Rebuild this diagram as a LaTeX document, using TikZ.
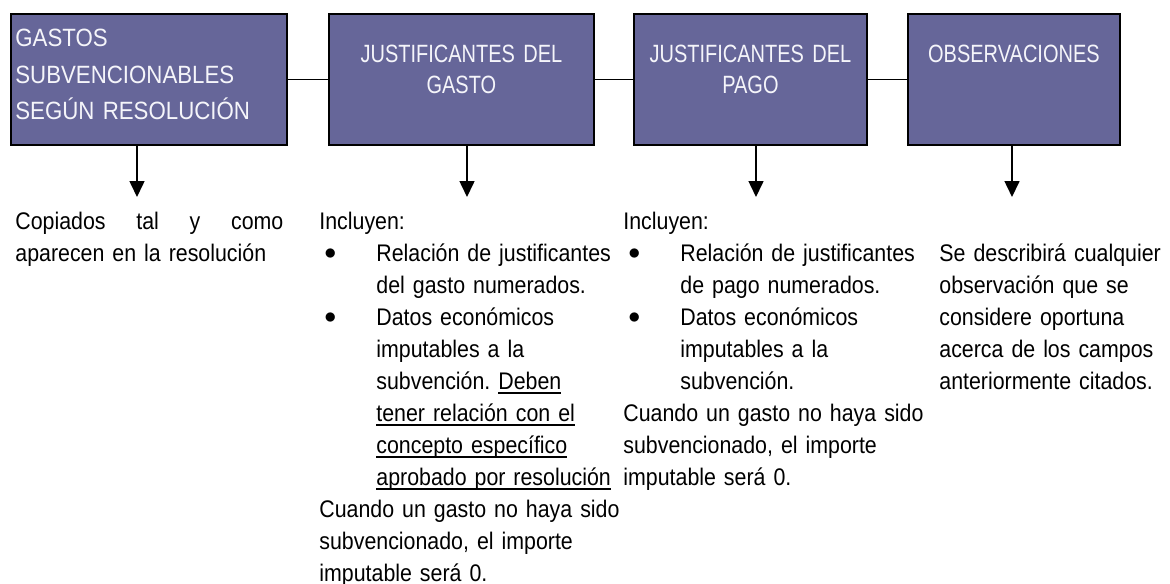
\documentclass[tikz,border=0pt]{standalone}
\usepackage{fontspec}
\setmainfont{Liberation Sans}[FakeStretch=0.89]
\newfontfamily\cabfont{Liberation Sans}[FakeStretch=0.80]
\usetikzlibrary{positioning,arrows.meta}
\definecolor{caja}{RGB}{102,102,153}
\definecolor{cabtxt}{RGB}{245,245,250}
\newsavebox\subbox
\newcommand{\subr}[1]{\sbox\subbox{#1}\rlap{\rule[-2.4pt]{\wd\subbox}{0.8pt}}\usebox\subbox}
\newcommand{\vin}{\makebox[28.5pt][l]{\hspace{2.5pt}\raisebox{0.8pt}{$\bullet$}}}
\newcommand{\sig}{\hspace*{28.5pt}}

\begin{document}
\frenchspacing
\begin{tikzpicture}[x=0.5pt,y=-0.5pt,
  box/.style={draw=black,line width=0.9pt,fill=caja,anchor=north west,minimum height=65.5pt,inner sep=0pt},
  cab/.style={text=cabtxt,font=\cabfont\fontsize{12.5}{16}\selectfont,inner sep=0pt},
  txt/.style={font=\fontsize{12}{16}\selectfont,inner sep=0pt,anchor=base west,align=left},
  flecha/.style={line width=0.8pt,-{Triangle[width=7.5pt,length=8pt]}}]
\useasboundingbox (0,0) rectangle (1170,583);
\node[box,minimum width=138pt] (0) at (10,13) {};
\node[box,minimum width=132.5pt] (1) at (328,13) {};
\node[box,minimum width=116.5pt] (2) at (633,13) {};
\node[box,minimum width=106pt] (3) at (907,13) {};
\node[cab,anchor=base west,text width=130pt,align=left,font=\fontsize{12.5}{18}\selectfont] (h0) at (15,47) {GASTOS\\SUBVENCIONABLES\\SEGÚN RESOLUCIÓN};
\node[cab,anchor=base,text width=125pt,align=center] (h1) at (1.north |- 0,62) {JUSTIFICANTES DEL\\GASTO};
\node[cab,anchor=base,text width=110pt,align=center] (h2) at (2.north |- 0,62) {JUSTIFICANTES DEL\\PAGO};
\node[cab,anchor=base,text width=100pt,align=center] (h3) at (3.north |- 0,62) {OBSERVACIONES};
\draw[line width=0.8pt](0)to (1);
\draw[line width=0.8pt](1)to (2);
\draw[line width=0.8pt](2)to (3);
\coordinate (a0) at (137,197);
\coordinate (a1) at (467,197);
\coordinate (a2) at (756,197);
\coordinate (a3) at (1012,197);
\draw[flecha](0.south -| a0)to (a0);
\draw[flecha](1.south -| a1)to (a1);
\draw[flecha](2.south -| a2)to (a2);
\draw[flecha](3.south -| a3)to (a3);
\node[txt,text width=134pt] (d0) at (15,229) {\hbox to 134pt{Copiados\hfill tal\hfill y\hfill como}\\aparecen en la resolución};
\node[txt,text width=170pt] (d1) at (319,229) {Incluyen:\\
\vin Relación de justificantes\\
\sig del gasto numerados.\\
\vin Datos económicos\\
\sig imputables a la\\
\sig subvención. \subr{Deben}\\
\sig \subr{tener relación con el}\\
\sig \subr{concepto específico}\\
\sig \subr{aprobado por resolución}\\
Cuando un gasto no haya sido\\
subvencionado, el importe\\
imputable será 0.};
\node[txt,text width=170pt] (d2) at (623,229) {Incluyen:\\
\vin Relación de justificantes\\
\sig de pago numerados.\\
\vin Datos económicos\\
\sig imputables a la\\
\sig subvención.\\
Cuando un gasto no haya sido\\
subvencionado, el importe\\
imputable será 0.};
\node[txt,text width=115pt] (d3) at (939,261) {Se describirá cualquier\\
observación que se\\
considere oportuna\\
acerca de los campos\\
anteriormente citados.};
\end{tikzpicture}
\end{document}
